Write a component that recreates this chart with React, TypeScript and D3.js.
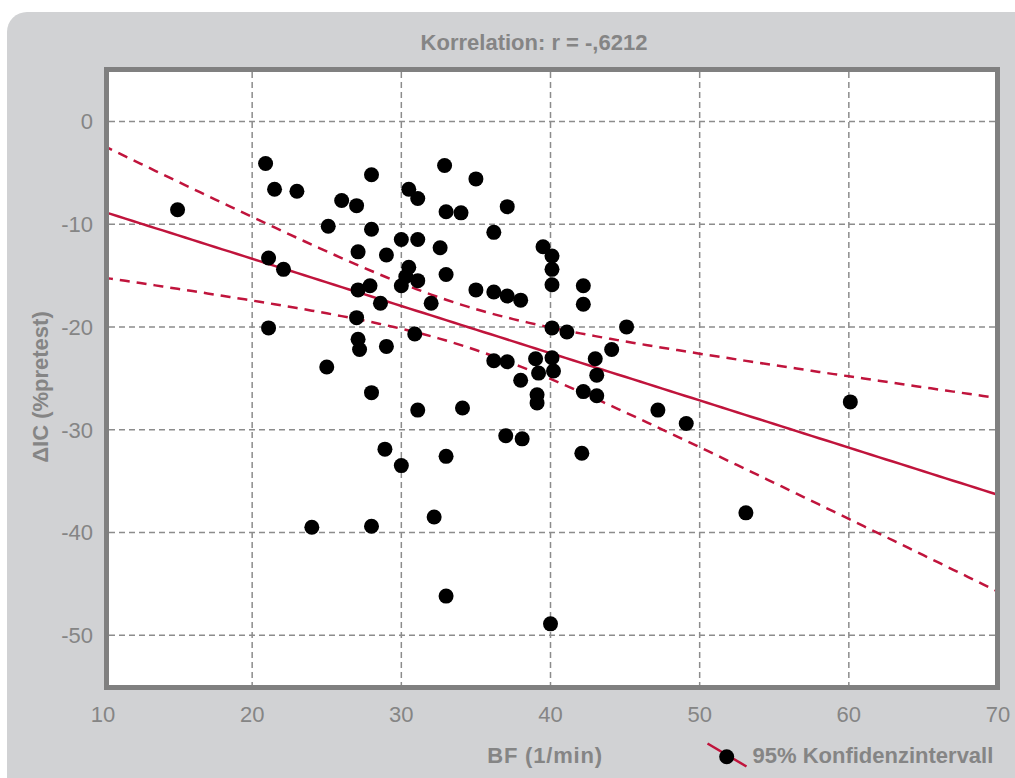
import React from "react";
import * as d3 from "d3";

// Atemfrequenz (BF, 1/min) und Änderung der Inspirationskapazität (ΔIC, % pretest)
const bf: number[] = [
  15.0, 20.9, 21.5, 23.0, 21.1, 22.1, 21.1, 24.0, 25.0, 25.1,
  26.0, 27.0, 28.0, 28.0, 27.1, 27.1, 27.9, 28.6, 27.0, 27.1,
  27.2, 29.0, 29.0, 28.0, 28.9, 30.0, 28.0, 30.5, 31.1, 30.0,
  31.1, 30.5, 30.3, 30.0, 31.1, 32.0, 30.9, 31.1, 32.2, 32.9,
  33.0, 34.0, 32.6, 33.0, 35.0, 37.1, 35.0, 36.2, 36.2, 37.1,
  38.0, 34.1, 33.0, 33.0, 36.2, 37.1, 38.0, 37.0, 38.1, 39.5,
  40.1, 40.1, 40.1, 40.1, 41.1, 39.0, 39.2, 40.1, 40.2, 39.1,
  39.1, 42.2, 42.2, 45.1, 44.1, 43.0, 43.1, 42.2, 43.1, 42.1,
  40.0, 47.2, 49.1, 53.1, 60.1,
];

const dIC: number[] = [
  -8.6, -4.1, -6.6, -6.8, -13.3, -14.4, -20.1, -39.5, -23.9, -10.2,
  -7.7, -8.2, -5.2, -10.5, -12.7, -16.4, -16.0, -17.7, -19.1, -21.2,
  -22.2, -13.0, -21.9, -26.4, -31.9, -33.5, -39.4, -6.6, -7.5, -11.5,
  -11.5, -14.2, -15.1, -16.0, -15.5, -17.7, -20.7, -28.1, -38.5, -4.3,
  -8.8, -8.9, -12.3, -14.9, -5.6, -8.3, -16.4, -10.8, -16.6, -17.0,
  -17.4, -27.9, -32.6, -46.2, -23.3, -23.4, -25.2, -30.6, -30.9, -12.2,
  -13.1, -14.4, -15.9, -20.1, -20.5, -23.1, -24.5, -23.0, -24.3, -26.6,
  -27.4, -16.0, -17.8, -20.0, -22.2, -23.1, -24.7, -26.3, -26.7, -32.3,
  -48.9, -28.1, -29.4, -38.1, -27.3,
];

const xTicks: number[] = [10, 20, 30, 40, 50, 60, 70];
const yTicks: number[] = [0, -10, -20, -30, -40, -50];
const xGrid: number[] = [20, 30, 40, 50, 60];

const titleText = "Korrelation: r = -,6212";
const xTitle = "BF (1/min)";
const yTitle = "ΔIC (%pretest)";
const legendText = "95% Konfidenzintervall";

const W = 1015;
const H = 778;
const frame = { left: 106.5, right: 997.5, top: 69.5, bottom: 687.5 };

const RED = "#c0143c";
const AXIS_GREY = "#808080";
const TEXT_GREY = "#858585";
const FONT = "'Liberation Sans', Arial, Helvetica, sans-serif";

// Lineare Regression mit 95%-Konfidenzband für den Mittelwert
function regression(xs: number[], ys: number[]) {
  const n = xs.length;
  const mx = d3.mean(xs) as number;
  const my = d3.mean(ys) as number;
  let sxx = 0;
  let sxy = 0;
  for (let i = 0; i < n; i++) {
    sxx += (xs[i] - mx) ** 2;
    sxy += (xs[i] - mx) * (ys[i] - my);
  }
  const b = sxy / sxx;
  const a = my - b * mx;
  let sse = 0;
  for (let i = 0; i < n; i++) sse += (ys[i] - (a + b * xs[i])) ** 2;
  const s = Math.sqrt(sse / (n - 2));
  const t = 1.989; // t(0.975, df = n - 2)
  const fit = (x: number) => a + b * x;
  const half = (x: number) => t * s * Math.sqrt(1 / n + (x - mx) ** 2 / sxx);
  return { fit, half };
}

export default function App() {
  const x = d3.scaleLinear().domain([10, 70]).range([103, 998]);
  const y = d3.scaleLinear().domain([-55, 5]).range([686.5, 70]);

  const { fit, half } = regression(bf, dIC);
  const xs = d3.range(10, 70.001, 0.5);
  const line = d3
    .line<[number, number]>()
    .x((d) => x(d[0]))
    .y((d) => y(d[1]));

  const fitPath = line(xs.map((v) => [v, fit(v)]));
  const upperPath = line(xs.map((v) => [v, fit(v) + half(v)]));
  const lowerPath = line(xs.map((v) => [v, fit(v) - half(v)]));

  const innerL = frame.left + 2.5;
  const innerR = frame.right - 2.5;
  const innerT = frame.top + 2.5;
  const innerB = frame.bottom - 2.5;

  return (
    <svg
      width={W}
      height={H}
      viewBox={`0 0 ${W} ${H}`}
      style={{ position: "absolute", left: 0, top: 0, display: "block" }}
      fontFamily={FONT}
    >
      <rect x={0} y={0} width={W} height={H} fill="#ffffff" />
      <rect x={7} y={12} width={W + 40} height={H + 40} rx={20} ry={20} fill="#d1d2d4" />

      <text
        x={534}
        y={49.5}
        textAnchor="middle"
        fontSize={22}
        fontWeight="bold"
        fill={TEXT_GREY}
      >
        {titleText}
      </text>

      <defs>
        <clipPath id="plot-clip">
          <rect x={innerL} y={innerT} width={innerR - innerL} height={innerB - innerT} />
        </clipPath>
      </defs>

      <rect
        x={frame.left}
        y={frame.top}
        width={frame.right - frame.left}
        height={frame.bottom - frame.top}
        fill="#ffffff"
      />

      <g clipPath="url(#plot-clip)">
        {xGrid.map((v) => (
          <line
            key={`gx${v}`}
            x1={x(v)}
            x2={x(v)}
            y1={innerT}
            y2={innerB}
            stroke="#8c8c8c"
            strokeWidth={1.5}
            strokeDasharray="6 4"
          />
        ))}
        {yTicks.map((v) => (
          <line
            key={`gy${v}`}
            x1={innerL}
            x2={innerR}
            y1={y(v)}
            y2={y(v)}
            stroke="#8c8c8c"
            strokeWidth={1.5}
            strokeDasharray="6 4"
          />
        ))}

        <path d={upperPath ?? ""} fill="none" stroke={RED} strokeWidth={2.5} strokeDasharray="10 7" />
        <path d={lowerPath ?? ""} fill="none" stroke={RED} strokeWidth={2.5} strokeDasharray="10 7" />
        <path d={fitPath ?? ""} fill="none" stroke={RED} strokeWidth={2.5} />

        {bf.map((v, i) => (
          <circle key={`p${i}`} cx={x(v)} cy={y(dIC[i])} r={7.5} fill="#000000" />
        ))}
      </g>

      <rect
        x={frame.left}
        y={frame.top}
        width={frame.right - frame.left}
        height={frame.bottom - frame.top}
        fill="none"
        stroke={AXIS_GREY}
        strokeWidth={5}
      />

      {xTicks.map((v) => (
        <text
          key={`tx${v}`}
          x={x(v)}
          y={722}
          textAnchor="middle"
          fontSize={22}
          fill={TEXT_GREY}
        >
          {v}
        </text>
      ))}
      {yTicks.map((v) => (
        <text
          key={`ty${v}`}
          x={93}
          y={y(v)}
          dy="0.36em"
          textAnchor="end"
          fontSize={22}
          fill={TEXT_GREY}
        >
          {v}
        </text>
      ))}

      <text
        x={545}
        y={762.5}
        textAnchor="middle"
        fontSize={22}
        fontWeight="bold"
        letterSpacing={0.8}
        fill={TEXT_GREY}
      >
        {xTitle}
      </text>

      <text
        transform="translate(48,387) rotate(-90)"
        textAnchor="middle"
        fontSize={22}
        fontWeight="bold"
        fill={TEXT_GREY}
      >
        {yTitle}
      </text>

      <g>
        <line x1={707.5} y1={743.5} x2={746.5} y2={766.5} stroke={RED} strokeWidth={2.5} />
        <circle cx={726.7} cy={756.7} r={7.5} fill="#000000" />
        <text x={752.5} y={762.7} fontSize={22} fontWeight="bold" fill={TEXT_GREY}>
          {legendText}
        </text>
      </g>
    </svg>
  );
}
